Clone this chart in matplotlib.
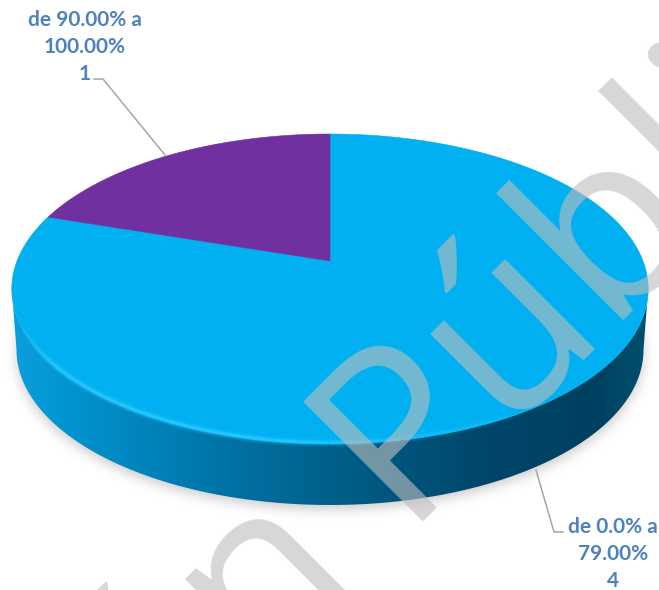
import numpy as np
import matplotlib
matplotlib.use("Agg")
import matplotlib.pyplot as plt
from matplotlib.path import Path
from matplotlib.patches import Polygon
from matplotlib.collections import LineCollection
from matplotlib.colors import LinearSegmentedColormap, to_rgb

categories = ["de 0.0% a\n79.00%", "de 90.00% a\n100.00%"]
values = [4, 1]
slice_colors = ["#00b0f0", "#7030a0"]
label_color = "#4f81bd"
leader_color = "#a6a6a6"
watermark = "Versión Pública"

W, H = 659, 590
CX, APEX_Y = 330.0, 261.0
K, PERSP, TILT = 313.0, 0.1806, -102.8
DEPTH = 61.0


def project(theta, r=1.0):
    """Perspective view of a disc; theta runs clockwise from the top."""
    x, v = r * np.sin(theta), r * np.cos(theta)
    d = 1 + PERSP * v
    return CX + K * x / d, (TILT * v + APEX_Y) / d


def lower_rim(theta):
    # The underside sits lower and looks a touch narrower than the top.
    x, y = project(theta)
    return CX + (x - CX) * 0.985, y + DEPTH


fig = plt.figure(figsize=(W / 100, H / 100), dpi=100, facecolor="white")
ax = fig.add_axes([0, 0, 1, 1])
ax.set_xlim(0, W)
ax.set_ylim(H, 0)
ax.axis("off")

# Soft drop shadow under the disc
t = np.linspace(0, 2 * np.pi, 400)
sx, sy = lower_rim(t)
gx, gy = np.meshgrid(np.arange(W) + 0.5, np.arange(H) + 0.5)
mask = Path(np.c_[sx, sy + 4]).contains_points(np.c_[gx.ravel(), gy.ravel()]).reshape(H, W).astype(float)
kernel = np.exp(-0.5 * (np.arange(-18, 19) / 6.0) ** 2)
kernel /= kernel.sum()
mask = np.apply_along_axis(lambda c: np.convolve(c, kernel, mode="same"), 0, mask)
mask = np.apply_along_axis(lambda c: np.convolve(c, kernel, mode="same"), 1, mask)
shadow = np.zeros((H, W, 4))
shadow[..., :3] = 0.35
shadow[..., 3] = mask * 0.32
ax.imshow(shadow, extent=(0, W, H, 0), zorder=1, interpolation="bilinear", aspect="auto")

# Side wall with a horizontal shading ramp; the front arc spans widest point to widest point
half = np.arcsin(np.sqrt(1 - PERSP ** 2))
front = np.linspace(np.pi + half, np.pi - half, 240)
ux, uy = project(front)
lx, ly = lower_rim(front)
wall = Polygon(np.r_[np.c_[ux, uy], np.c_[lx, ly][::-1]], closed=True, transform=ax.transData,
               facecolor="none", edgecolor="none")
ax.add_patch(wall)
ramp = LinearSegmentedColormap.from_list(
    "wall",
    [(0.0, "#0a9fdc"), (0.08, "#0295d2"), (0.29, "#0078ad"), (0.52, "#005e87"),
     (0.75, "#00466a"), (0.92, "#004060"), (1.0, "#00506f")],
)
grad = ax.imshow(np.linspace(0, 1, 512)[None, :], extent=(12, 648, 520, 280), cmap=ramp,
                 zorder=2, aspect="auto", interpolation="bilinear")
grad.set_clip_path(wall)
ax.set_xlim(0, W)
ax.set_ylim(H, 0)

# Top face: one slice per value, clockwise from twelve o'clock
edges = np.r_[0, np.cumsum(values)] / np.sum(values) * 2 * np.pi
for start, stop, color in zip(edges[:-1], edges[1:], slice_colors):
    arc = np.linspace(start, stop, 240)
    ax_, ay_ = project(arc)
    pts = np.r_[[[CX, APEX_Y]], np.c_[ax_, ay_]]
    ax.add_patch(Polygon(pts, closed=True, facecolor=color, edgecolor=color, linewidth=0.4, zorder=3))

# Bright bevel along the front rim, fading toward the dark side
rx, ry = project(front)
segs = np.stack([np.c_[rx[:-1], ry[:-1]], np.c_[rx[1:], ry[1:]]], axis=1)
fade = np.clip((560 - rx[:-1]) / 300, 0, 1) * np.clip((rx[:-1] - 14) / 40, 0, 1)
for lw, a, rgb in [(6, 0.25, "#1cc4ff"), (3.5, 0.45, "#1cc4ff"), (1.8, 0.75, "#2acbff")]:
    cols = np.c_[np.tile(to_rgb(rgb), (len(segs), 1)), fade * a]
    ax.add_collection(LineCollection(segs - [0, 1.5], colors=cols, linewidths=lw, zorder=4, capstyle="butt"))

# Semi-transparent diagonal stamp across the whole figure
ax.text(-222, 1167, watermark, rotation=45, rotation_mode="anchor", ha="left", va="baseline",
        family="Open Sans", fontsize=170, color="#bebebe", alpha=0.615, zorder=6, clip_on=True)

# Leader lines and data labels
label_font = dict(family="Lato", fontweight="bold", fontsize=15, color=label_color,
                  ha="center", va="center", linespacing=1.42, zorder=7)
ax.plot([94, 103, 165], [79, 79, 155], color=leader_color, lw=1.1, zorder=5)
ax.plot([536, 554, 563], [470, 532, 532], color=leader_color, lw=1.1, zorder=5)
ax.text(85, 47, f"{categories[1]}\n{values[1]}", **label_font)
ax.text(613, 554, f"{categories[0]}\n{values[0]}", **label_font)

fig.savefig("out.png", dpi=100, facecolor="white")
